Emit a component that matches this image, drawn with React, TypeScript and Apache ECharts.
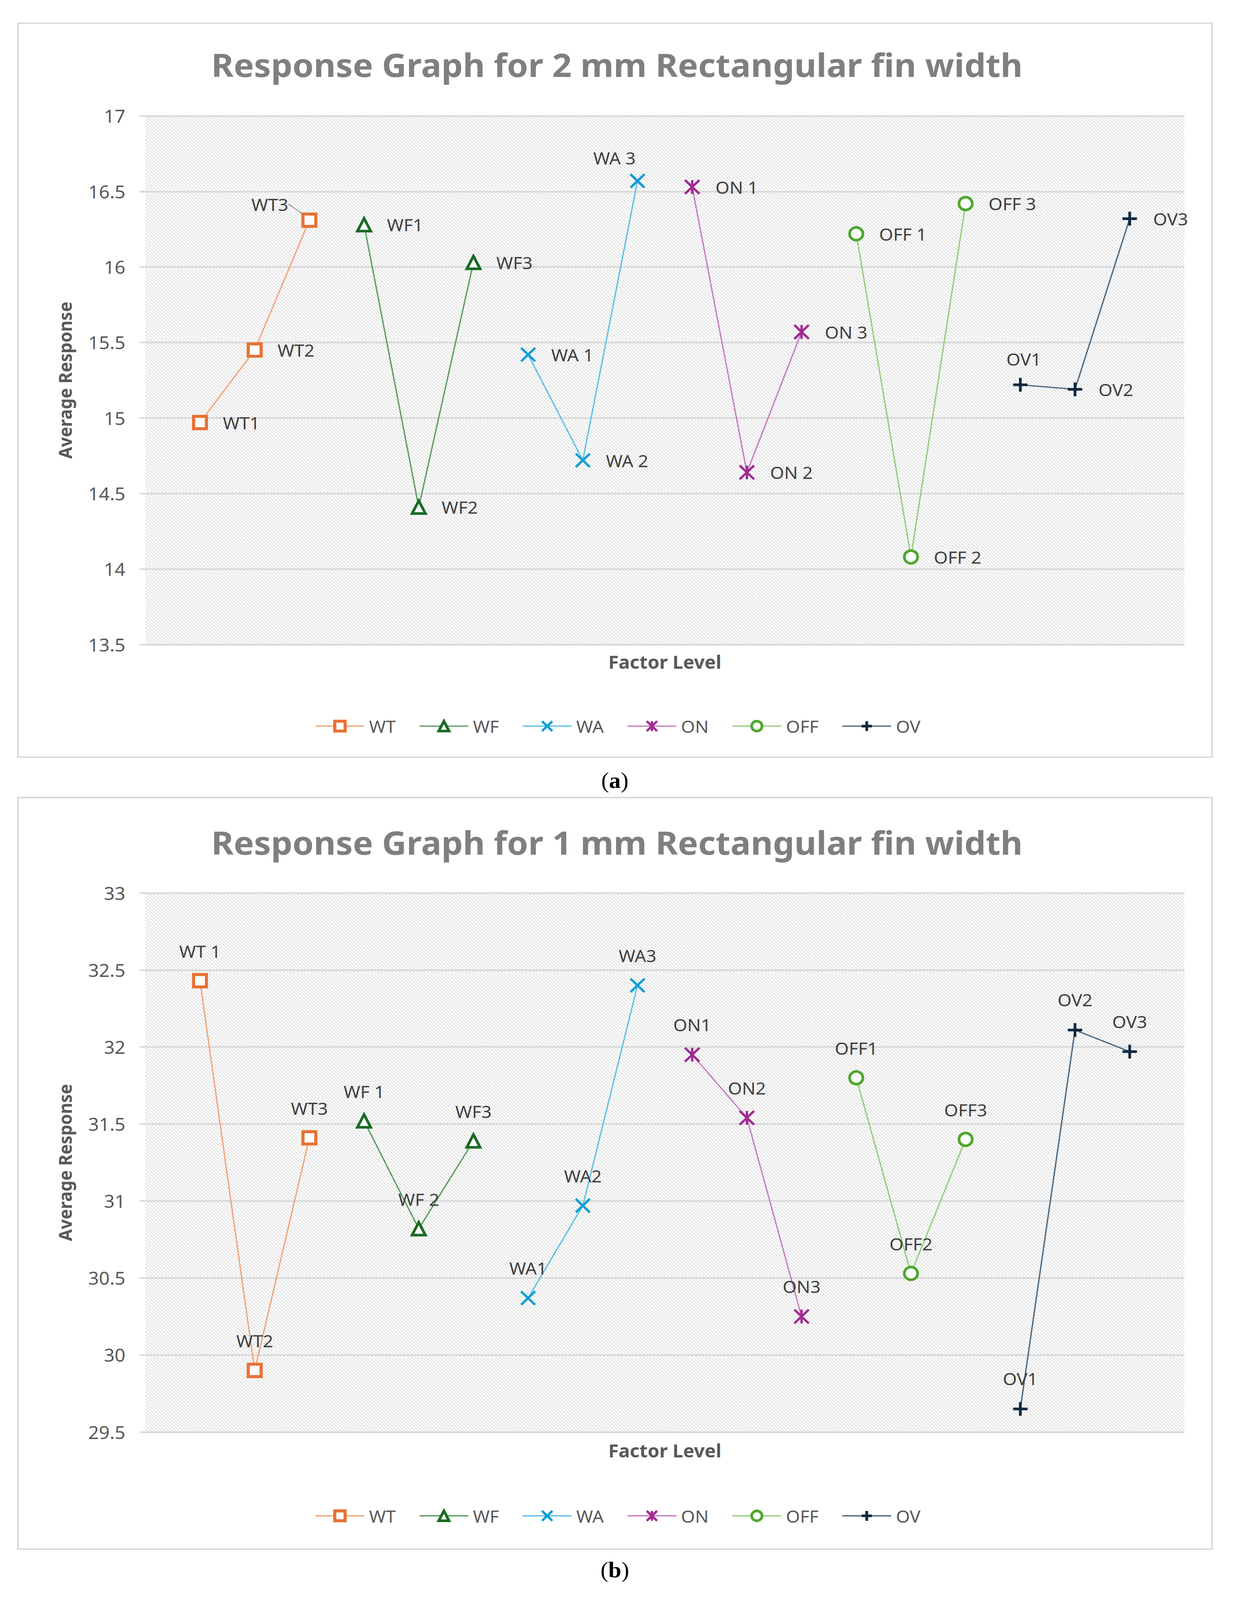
import React, { useEffect, useRef } from 'react';
import * as echarts from 'echarts';

// ---------- data ----------
const FACTORS = ['WT', 'WF', 'WA', 'ON', 'OFF', 'OV'];
const LEVELS = ['1', '2', '3'];
const X_CATEGORIES = ['', ...FACTORS.flatMap((f) => LEVELS.map((l) => f + l)), ' '];

const TITLE_2MM = 'Response Graph for 2 mm Rectangular fin width';
const TITLE_1MM = 'Response Graph for 1 mm Rectangular fin width';
const Y_NAME = 'Average Response';
const X_NAME = 'Factor Level';

// (a) 2 mm fin width
const WT_2MM = [14.97, 15.45, 16.31];
const WF_2MM = [16.28, 14.41, 16.03];
const WA_2MM = [15.42, 14.72, 16.57];
const ON_2MM = [16.53, 14.64, 15.57];
const OFF_2MM = [16.22, 14.08, 16.42];
const OV_2MM = [15.22, 15.19, 16.32];
const LABELS_2MM = [
  ['WT1', 'WT2', 'WT3'],
  ['WF1', 'WF2', 'WF3'],
  ['WA 1', 'WA 2', 'WA 3'],
  ['ON 1', 'ON 2', 'ON 3'],
  ['OFF 1', 'OFF 2', 'OFF 3'],
  ['OV1', 'OV2', 'OV3'],
];
const Y_MIN_2MM = 13.5;
const Y_MAX_2MM = 17;

// (b) 1 mm fin width
const WT_1MM = [32.43, 29.9, 31.41];
const WF_1MM = [31.52, 30.82, 31.39];
const WA_1MM = [30.37, 30.97, 32.4];
const ON_1MM = [31.95, 31.54, 30.25];
const OFF_1MM = [31.8, 30.53, 31.4];
const OV_1MM = [29.65, 32.11, 31.97];
const LABELS_1MM = [
  ['WT 1', 'WT2', 'WT3'],
  ['WF 1', 'WF 2', 'WF3'],
  ['WA1', 'WA2', 'WA3'],
  ['ON1', 'ON2', 'ON3'],
  ['OFF1', 'OFF2', 'OFF3'],
  ['OV1', 'OV2', 'OV3'],
];
const Y_MIN_1MM = 29.5;
const Y_MAX_1MM = 33;
const Y_STEP = 0.5;

const VALUES_2MM = [WT_2MM, WF_2MM, WA_2MM, ON_2MM, OFF_2MM, OV_2MM];
const VALUES_1MM = [WT_1MM, WF_1MM, WA_1MM, ON_1MM, OFF_1MM, OV_1MM];

// ---------- styles ----------
const PAGE_W = 3159;
const PAGE_H = 4277;
const FONT = '"Noto Sans", "DejaVu Sans", sans-serif';
const GRID_COLOR = '#D9D9D9';
const MARKER_COLORS = ['#E97132', '#196B24', '#0F9ED5', '#A02B93', '#4EA72E', '#0E2841'];
const LINE_COLORS = ['#F2A57A', '#5E9E64', '#62C0E6', '#C77FC0', '#93CF7E', '#4F6B82'];
const SYMBOLS = [
  'rect',
  'triangle',
  'path://M0,0L10,10M10,0L0,10',
  'path://M0,0L10,10M10,0L0,10M5,0L5,10',
  'circle',
  'path://M5,0L5,10M0,5L10,5',
];
const HOLLOW = [true, true, false, false, true, false];
const SYMBOL_SIZES = [33, 34, 36, 37, 34, 37];
const SYMBOL_STROKES = [8, 7, 6, 6, 7, 7];

const LABEL_OVERRIDES_2MM: Record<string, any> = {
  'WA 3': { position: 'top', distance: 18, offset: [-59, 0] },
  OV1: { position: 'top', distance: 24, offset: [9, 0] },
};
// label moved away from its marker (with a leader line) in chart (a)
const MOVED_LABEL_2MM = { series: 0, index: 2, dx: -207, dy: -43 };

function hatchImage(): string {
  const c = document.createElement('canvas');
  c.width = 9;
  c.height = 9;
  const ctx = c.getContext('2d')!;
  ctx.fillStyle = '#ffffff';
  ctx.fillRect(0, 0, 9, 9);
  ctx.strokeStyle = '#d4d4d4';
  ctx.lineWidth = 1.6;
  ctx.beginPath();
  ctx.moveTo(-2, -2);
  ctx.lineTo(11, 11);
  ctx.moveTo(-2, 7);
  ctx.lineTo(2, 11);
  ctx.moveTo(7, -2);
  ctx.lineTo(11, 2);
  ctx.stroke();
  return c.toDataURL('image/png');
}

function markerStyle(f: number) {
  return {
    color: HOLLOW[f] ? '#ffffff' : MARKER_COLORS[f],
    borderColor: MARKER_COLORS[f],
    borderWidth: SYMBOL_STROKES[f],
  };
}

function buildSeries(
  gridIdx: number,
  values: number[][],
  labels: string[][],
  defaultLabel: any,
  overrides: Record<string, any>,
  moved?: { series: number; index: number; dx: number; dy: number }
) {
  return FACTORS.map((name, f) => {
    const hasMoved = !!moved && moved.series === f;
    const s: any = {
      type: 'line',
      name,
      xAxisIndex: gridIdx,
      yAxisIndex: gridIdx,
      symbol: SYMBOLS[f],
      symbolSize: SYMBOL_SIZES[f],
      lineStyle: { color: LINE_COLORS[f], width: 3.5 },
      itemStyle: markerStyle(f),
      label: {
        show: true,
        ...defaultLabel,
        fontSize: 46,
        color: '#404040',
        fontFamily: FONT,
      },
      labelLine: { show: false },
      emphasis: { disabled: true },
      data: values[f].map((v, j) => {
        const lbl = labels[f][j];
        const item: any = {
          value: [f * 3 + j + 1, v],
          label: { formatter: lbl, ...(overrides[lbl] || {}) },
        };
        if (hasMoved && moved!.index === j) {
          item.labelLine = { show: true, lineStyle: { color: '#A6A6A6', width: 3 } };
        }
        return item;
      }),
    };
    if (hasMoved) {
      s.labelLayout = (p: any) =>
        p.dataIndex === moved!.index ? { dx: moved!.dx, dy: moved!.dy } : {};
    }
    return s;
  });
}

function buildAxes(gridIdx: number, min: number, max: number, xNameGap: number) {
  const xAxis = {
    type: 'category',
    gridIndex: gridIdx,
    data: X_CATEGORIES,
    boundaryGap: false,
    axisLine: { show: false },
    axisTick: { show: false },
    axisLabel: { show: false },
    splitLine: { show: false },
    name: X_NAME,
    nameLocation: 'middle',
    nameGap: xNameGap,
    nameMoveOverlap: false,
    nameTextStyle: { fontSize: 48, fontWeight: 'bold', color: '#595959', fontFamily: FONT },
  };
  const yAxis = {
    type: 'value',
    gridIndex: gridIdx,
    min,
    max,
    interval: Y_STEP,
    axisLine: { show: false },
    axisTick: { show: true, length: 15, lineStyle: { color: GRID_COLOR, width: 4.5 } },
    axisLabel: { fontSize: 48, color: '#595959', margin: 51, fontFamily: FONT },
    splitLine: { show: true, lineStyle: { color: GRID_COLOR, width: 4.5 } },
    name: Y_NAME,
    nameLocation: 'middle',
    nameRotate: 90,
    nameGap: 183,
    nameMoveOverlap: false,
    nameTextStyle: { fontSize: 46, fontWeight: 'bold', color: '#595959', fontFamily: FONT },
  };
  return { xAxis, yAxis };
}

function legendAt(top: number) {
  return {
    data: FACTORS.map((name, f) => ({
      name,
      itemStyle: markerStyle(f),
      lineStyle: { color: LINE_COLORS[f], width: 3.5 },
    })),
    left: 806,
    top,
    padding: 0,
    itemWidth: 125,
    itemHeight: 33,
    itemGap: 59,
    textStyle: { fontSize: 46, color: '#595959', fontFamily: FONT, padding: [0, 0, 0, 7] },
  };
}

function panelLabel(letter: string, y: number) {
  return {
    type: 'text',
    x: 1574,
    y,
    style: {
      text: `{p|(}{b|${letter}}{p|)}`,
      align: 'center',
      verticalAlign: 'middle',
      rich: {
        p: { fontSize: 60, fontFamily: '"Liberation Serif", serif', fill: '#000', color: '#000' },
        b: { fontSize: 60, fontWeight: 'bold', fontFamily: '"Liberation Serif", serif', fill: '#000', color: '#000' },
      },
    },
  };
}

export default function App() {
  const ref = useRef<HTMLDivElement>(null);
  const vw = typeof window !== 'undefined' ? window.innerWidth || PAGE_W : PAGE_W;
  const vh = typeof window !== 'undefined' ? window.innerHeight || PAGE_H : PAGE_H;
  const sx = Math.min(1, vw / PAGE_W);
  const sy = Math.min(1, vh / PAGE_H);

  useEffect(() => {
    document.body.style.margin = '0';
    document.body.style.overflow = 'hidden';
    if (!ref.current) return;
    const chart = echarts.init(ref.current, undefined, { renderer: 'svg' });
    const hatch = {
      image: hatchImage(),
      repeat: 'repeat',
      imageWidth: 9,
      imageHeight: 9,
    };
    const a = buildAxes(0, Y_MIN_2MM, Y_MAX_2MM, 22);
    const b = buildAxes(1, Y_MIN_1MM, Y_MAX_1MM, 25);
    const titleStyle = { fontSize: 87, fontWeight: 'bold', color: '#7F7F7F', fontFamily: FONT };
    chart.setOption({
      animation: false,
      backgroundColor: '#ffffff',
      title: [
        { text: TITLE_2MM, left: 'center', top: 128, padding: 0, textStyle: titleStyle },
        { text: TITLE_1MM, left: 'center', top: 2207, padding: 0, textStyle: titleStyle },
      ],
      legend: [legendAt(1918), legendAt(4029)],
      grid: [
        { left: 372, top: 310, width: 2660, height: 1413, show: true, backgroundColor: hatch, borderWidth: 0, outerBoundsMode: 'none' },
        { left: 372, top: 2387, width: 2660, height: 1441, show: true, backgroundColor: hatch, borderWidth: 0, outerBoundsMode: 'none' },
      ],
      xAxis: [a.xAxis, b.xAxis],
      yAxis: [a.yAxis, b.yAxis],
      graphic: [
        {
          type: 'rect',
          shape: { x: 46, y: 62, width: 3057, height: 1962 },
          style: { fill: 'none', stroke: GRID_COLOR, lineWidth: 4 },
        },
        {
          type: 'rect',
          shape: { x: 46, y: 2132, width: 3057, height: 2009 },
          style: { fill: 'none', stroke: GRID_COLOR, lineWidth: 4 },
        },
        panelLabel('a', 2086),
        panelLabel('b', 4196),
      ],
      series: [
        ...buildSeries(0, VALUES_2MM, LABELS_2MM, { position: 'right', distance: 38 }, LABEL_OVERRIDES_2MM, MOVED_LABEL_2MM),
        ...buildSeries(1, VALUES_1MM, LABELS_1MM, { position: 'top', distance: 36 }, {}),
      ],
    });
    return () => chart.dispose();
  }, []);

  return (
    <div
      style={{
        position: 'absolute',
        left: 0,
        top: 0,
        width: PAGE_W * sx,
        height: PAGE_H * sy,
        overflow: 'hidden',
        background: '#fff',
      }}
    >
      <div
        ref={ref}
        style={{
          width: PAGE_W,
          height: PAGE_H,
          transform: `scale(${sx}, ${sy})`,
          transformOrigin: '0 0',
        }}
      />
    </div>
  );
}
